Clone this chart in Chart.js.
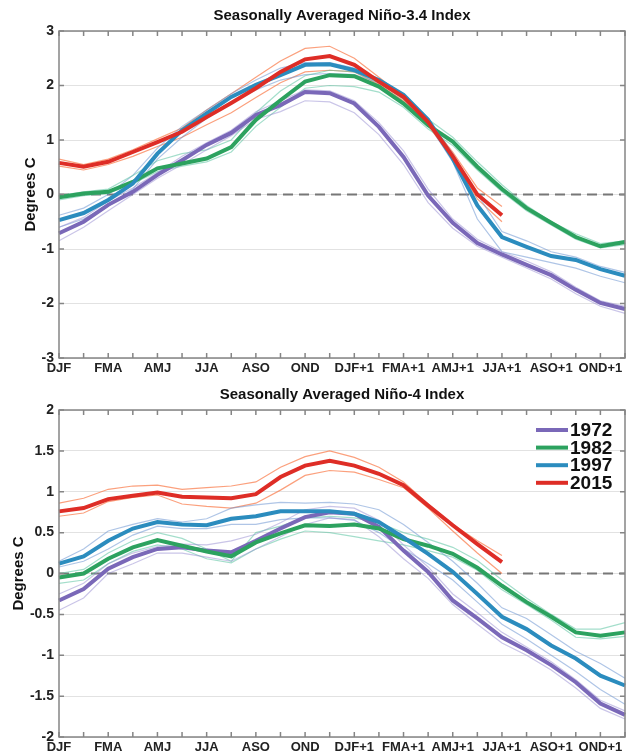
<!DOCTYPE html>
<html>
<head>
<meta charset="utf-8">
<script src="https://cdn.jsdelivr.net/npm/chart.js@4"></script>
<style>
  body { margin: 0; background: #fff; }
  .panel { position: relative; width: 631px; }
</style>
</head>
<body>
<div class="panel" style="height:378px"><canvas id="nino34Chart" width="631" height="378"></canvas></div>
<div class="panel" style="height:377px"><canvas id="nino4Chart" width="631" height="377"></canvas></div>
<script>
'use strict'

var seasons = ['DJF', 'JFM', 'FMA', 'MAM', 'AMJ', 'MJJ', 'JJA', 'JAS', 'ASO', 'SON', 'OND', 'NDJ',
    'DJF+1', 'JFM+1', 'FMA+1', 'MAM+1', 'AMJ+1', 'MJJ+1', 'JJA+1', 'JAS+1', 'ASO+1', 'SON+1', 'OND+1', 'NDJ+1'];
var years = ['1972', '1982', '1997', '2015'];

// Nino-3.4, thick = average, lo/hi = individual members
var n34_1972 = [-0.71, -0.5, -0.19, 0.05, 0.36, 0.63, 0.91, 1.13, 1.46, 1.64, 1.88, 1.86, 1.67, 1.24, 0.69, -0.02, -0.52, -0.89, -1.1, -1.29, -1.48, -1.75, -1.99, -2.1];
var n34_1972_hi = [-0.6, -0.42, -0.12, 0.12, 0.4, 0.7, 0.95, 1.18, 1.52, 1.72, 1.92, 1.9, 1.72, 1.32, 0.8, 0.1, -0.45, -0.82, -1.05, -1.22, -1.42, -1.7, -1.95, -2.05];
var n34_1972_lo = [-0.85, -0.6, -0.3, 0.0, 0.3, 0.55, 0.82, 1.08, 1.38, 1.52, 1.72, 1.7, 1.5, 1.1, 0.55, -0.15, -0.62, -0.95, -1.15, -1.35, -1.55, -1.82, -2.05, -2.18];
var n34_1982 = [-0.05, 0.02, 0.05, 0.23, 0.48, 0.57, 0.66, 0.87, 1.37, 1.73, 2.07, 2.19, 2.17, 1.98, 1.67, 1.27, 0.97, 0.51, 0.1, -0.25, -0.52, -0.78, -0.95, -0.87];
var n34_1982_hi = [-0.02, 0.05, 0.1, 0.35, 0.62, 0.75, 0.82, 1.0, 1.5, 1.9, 2.18, 2.28, 2.25, 2.05, 1.75, 1.38, 1.05, 0.6, 0.18, -0.2, -0.5, -0.72, -0.9, -0.85];
var n34_1982_lo = [-0.1, -0.02, 0.02, 0.2, 0.42, 0.52, 0.6, 0.78, 1.25, 1.6, 1.95, 2.0, 1.98, 1.88, 1.6, 1.2, 0.9, 0.45, 0.05, -0.3, -0.56, -0.82, -0.98, -0.92];
var n34_1997 = [-0.47, -0.34, -0.1, 0.2, 0.75, 1.18, 1.49, 1.79, 2.01, 2.19, 2.38, 2.39, 2.28, 2.1, 1.83, 1.37, 0.66, -0.2, -0.78, -0.96, -1.13, -1.2, -1.37, -1.49];
var n34_1997_hi = [-0.38, -0.25, 0.0, 0.35, 0.85, 1.25, 1.55, 1.85, 2.1, 2.32, 2.42, 2.42, 2.32, 2.12, 1.8, 1.4, 0.75, 0.0, -0.68, -0.85, -1.05, -1.15, -1.32, -1.43];
var n34_1997_lo = [-0.6, -0.45, -0.2, 0.1, 0.65, 1.05, 1.4, 1.7, 1.92, 2.1, 2.2, 2.22, 2.2, 2.05, 1.75, 1.3, 0.6, -0.45, -1.05, -1.15, -1.25, -1.35, -1.5, -1.62];
var n34_2015 = [0.58, 0.51, 0.6, 0.78, 0.96, 1.15, 1.42, 1.68, 1.95, 2.25, 2.48, 2.54, 2.38, 2.07, 1.79, 1.33, 0.7, 0.0, -0.38];
var n34_2015_hi = [0.65, 0.55, 0.65, 0.82, 1.02, 1.22, 1.55, 1.85, 2.15, 2.45, 2.68, 2.72, 2.5, 2.15, 1.8, 1.35, 0.78, 0.12, -0.22];
var n34_2015_lo = [0.52, 0.45, 0.55, 0.7, 0.88, 1.05, 1.28, 1.5, 1.78, 2.05, 2.25, 2.28, 2.25, 2.02, 1.72, 1.27, 0.65, -0.08, -0.5];

// Nino-4
var n4_1972 = [-0.33, -0.19, 0.06, 0.2, 0.3, 0.32, 0.28, 0.26, 0.4, 0.55, 0.69, 0.75, 0.73, 0.57, 0.28, 0.02, -0.33, -0.55, -0.78, -0.94, -1.12, -1.33, -1.59, -1.73];
var n4_1972_hi = [-0.25, -0.12, 0.12, 0.25, 0.33, 0.36, 0.35, 0.4, 0.48, 0.62, 0.78, 0.82, 0.8, 0.65, 0.35, 0.08, -0.25, -0.48, -0.72, -0.9, -1.08, -1.3, -1.55, -1.68];
var n4_1972_lo = [-0.45, -0.3, 0.0, 0.12, 0.25, 0.25, 0.2, 0.15, 0.3, 0.45, 0.6, 0.68, 0.66, 0.45, 0.18, -0.06, -0.38, -0.62, -0.85, -1.0, -1.18, -1.4, -1.65, -1.78];
var n4_1982 = [-0.05, 0.0, 0.18, 0.32, 0.41, 0.34, 0.27, 0.21, 0.38, 0.49, 0.59, 0.58, 0.6, 0.55, 0.42, 0.34, 0.24, 0.07, -0.15, -0.35, -0.53, -0.72, -0.76, -0.72];
var n4_1982_hi = [0.0, 0.05, 0.25, 0.4, 0.5, 0.43, 0.3, 0.15, 0.5, 0.58, 0.68, 0.7, 0.68, 0.62, 0.5, 0.42, 0.32, 0.16, -0.08, -0.3, -0.5, -0.68, -0.68, -0.6];
var n4_1982_lo = [-0.12, -0.08, 0.12, 0.27, 0.35, 0.3, 0.18, 0.13, 0.3, 0.42, 0.52, 0.5, 0.45, 0.4, 0.35, 0.28, 0.2, 0.04, -0.2, -0.38, -0.57, -0.78, -0.8, -0.77];
var n4_1997 = [0.12, 0.21, 0.4, 0.55, 0.63, 0.6, 0.59, 0.67, 0.7, 0.76, 0.76, 0.76, 0.73, 0.63, 0.44, 0.24, 0.02, -0.25, -0.53, -0.68, -0.88, -1.04, -1.25, -1.37];
var n4_1997_hi = [0.15, 0.3, 0.52, 0.6, 0.67, 0.63, 0.67, 0.8, 0.84, 0.87, 0.86, 0.87, 0.85, 0.78, 0.6, 0.38, 0.15, -0.12, -0.42, -0.55, -0.75, -0.95, -1.1, -1.28];
var n4_1997_lo = [0.08, 0.15, 0.3, 0.47, 0.58, 0.55, 0.55, 0.6, 0.6, 0.66, 0.68, 0.68, 0.65, 0.5, 0.3, 0.12, -0.08, -0.35, -0.62, -0.8, -1.0, -1.2, -1.42, -1.6];
var n4_2015 = [0.76, 0.8, 0.91, 0.95, 0.99, 0.94, 0.93, 0.92, 0.97, 1.18, 1.32, 1.38, 1.32, 1.22, 1.08, 0.83, 0.59, 0.36, 0.14];
var n4_2015_hi = [0.86, 0.92, 1.03, 1.07, 1.08, 1.03, 1.05, 1.07, 1.12, 1.3, 1.43, 1.5, 1.42, 1.3, 1.12, 0.85, 0.6, 0.4, 0.22];
var n4_2015_lo = [0.7, 0.74, 0.88, 0.93, 0.96, 0.85, 0.82, 0.8, 0.86, 1.02, 1.2, 1.26, 1.24, 1.15, 1.05, 0.8, 0.52, 0.25, 0.0];

var yearColors = ['#7a68b8', '#2ca25f', '#2b8cbe', '#de2d26'];
var memberColors = ['rgba(150,140,210,0.5)', 'rgba(90,195,160,0.55)', 'rgba(110,150,210,0.55)', 'rgba(250,120,70,0.7)'];

var FONT = "'Liberation Sans', Arial, Helvetica, sans-serif";

function makeDatasets(main, members) {
    var sets = [];
    for (var i = 0; i < main.length; i++) {
        sets.push({
            label: years[i],
            data: main[i],
            borderColor: yearColors[i],
            backgroundColor: yearColors[i],
            borderWidth: 4,
            order: 3 - i
        });
        for (var j = 0; j < members[i].length; j++) {
            sets.push({
                label: '',
                data: members[i][j],
                borderColor: memberColors[i],
                borderWidth: 1.2,
                order: 10
            });
        }
    }
    return sets;
}

// dashed zero line, boxed frame with inward ticks, legend inside plot
var framePlugin = {
    id: 'frame',
    beforeDatasetsDraw: function (chart) {
        var ctx = chart.ctx, a = chart.chartArea;
        var y0 = chart.scales.y.getPixelForValue(0);
        ctx.save();
        ctx.strokeStyle = '#777';
        ctx.lineWidth = 2;
        ctx.setLineDash([10, 6]);
        ctx.beginPath();
        ctx.moveTo(a.left, y0);
        ctx.lineTo(a.right, y0);
        ctx.stroke();
        ctx.restore();
    },
    afterDraw: function (chart, args, opts) {
        var ctx = chart.ctx, a = chart.chartArea;
        var xs = chart.scales.x, ys = chart.scales.y;
        ctx.save();
        ctx.strokeStyle = '#858585';
        ctx.lineWidth = 1.5;
        ctx.strokeRect(a.left, a.top, a.right - a.left, a.bottom - a.top);
        ctx.beginPath();
        for (var i = 0; i < xs.ticks.length; i++) {
            var px = xs.getPixelForTick(i);
            ctx.moveTo(px, a.bottom); ctx.lineTo(px, a.bottom - 5);
            ctx.moveTo(px, a.top); ctx.lineTo(px, a.top + 5);
        }
        for (var k = 0; k < ys.ticks.length; k++) {
            var py = ys.getPixelForValue(ys.ticks[k].value);
            ctx.moveTo(a.left, py); ctx.lineTo(a.left + 5, py);
            ctx.moveTo(a.right, py); ctx.lineTo(a.right - 5, py);
        }
        ctx.stroke();

        if (opts.legend) {
            var main = chart.data.datasets.filter(function (d) { return d.label; });
            main.sort(function (p, q) { return p.label - q.label; });
            ctx.font = 'bold 19px ' + FONT;
            ctx.textBaseline = 'middle';
            ctx.fillStyle = '#111';
            for (var m = 0; m < main.length; m++) {
                var ly = a.top + 20 + m * 17.6;
                ctx.strokeStyle = main[m].borderColor;
                ctx.lineWidth = 4;
                ctx.beginPath();
                ctx.moveTo(a.right - 89, ly);
                ctx.lineTo(a.right - 57, ly);
                ctx.stroke();
                ctx.fillText(main[m].label, a.right - 55, ly + 1);
            }
        }
        ctx.restore();
    }
};

function makeChart(canvasId, titleText, datasets, yMin, yMax, yStep, xHeight, titleTop, yTitlePad, withLegend) {
    return new Chart(document.getElementById(canvasId), {
        type: 'line',
        data: { labels: seasons, datasets: datasets },
        options: {
            responsive: false,
            animation: false,
            layout: { padding: { left: 0, right: 6, top: 0, bottom: 0 } },
            elements: {
                point: { radius: 0, hoverRadius: 0 },
                line: { tension: 0, borderCapStyle: 'butt' }
            },
            plugins: {
                legend: { display: false },
                tooltip: { enabled: false },
                title: {
                    display: true,
                    text: titleText,
                    fullSize: false,
                    color: '#111',
                    font: { family: FONT, size: 15, weight: 'bold' },
                    padding: { top: titleTop, bottom: 6 }
                },
                frame: { legend: withLegend }
            },
            scales: {
                x: {
                    type: 'category',
                    offset: false,
                    grid: { display: false, drawTicks: false },
                    border: { display: false },
                    ticks: {
                        autoSkip: false,
                        maxRotation: 0,
                        padding: 3,
                        color: '#222',
                        font: { family: FONT, size: 13, weight: 'bold' },
                        callback: function (v, i) { return i % 2 === 0 ? this.getLabelForValue(v) : ''; }
                    },
                    afterFit: function (scale) { scale.height = xHeight; }
                },
                y: {
                    min: yMin,
                    max: yMax,
                    grid: { color: '#e2e2e2', lineWidth: 1, drawTicks: false },
                    border: { display: false },
                    ticks: {
                        stepSize: yStep,
                        padding: 5,
                        color: '#222',
                        font: { family: FONT, size: 14, weight: 'bold' },
                        callback: function (v) { return String(Math.round(v * 10) / 10); }
                    },
                    title: {
                        display: true,
                        text: 'Degrees C',
                        color: '#111',
                        font: { family: FONT, size: 15, weight: 'bold' },
                        padding: { top: yTitlePad, bottom: 0 }
                    },
                    afterFit: function (scale) { scale.width = 59; }
                }
            }
        },
        plugins: [framePlugin]
    });
}

var nino34Chart = makeChart('nino34Chart', 'Seasonally Averaged Niño-3.4 Index',
    makeDatasets([n34_1972, n34_1982, n34_1997, n34_2015],
        [[n34_1972_hi, n34_1972_lo], [n34_1982_hi, n34_1982_lo], [n34_1997_hi, n34_1997_lo], [n34_2015_hi, n34_2015_lo]]),
    -3, 3, 1, 20, 7, 22, false);

var nino4Chart = makeChart('nino4Chart', 'Seasonally Averaged Niño-4 Index',
    makeDatasets([n4_1972, n4_1982, n4_1997, n4_2015],
        [[n4_1972_hi, n4_1972_lo], [n4_1982_hi, n4_1982_lo], [n4_1997_hi, n4_1997_lo], [n4_2015_hi, n4_2015_lo]]),
    -2, 2, 0.5, 18, 8, 10, true);
</script>
</body>
</html>
